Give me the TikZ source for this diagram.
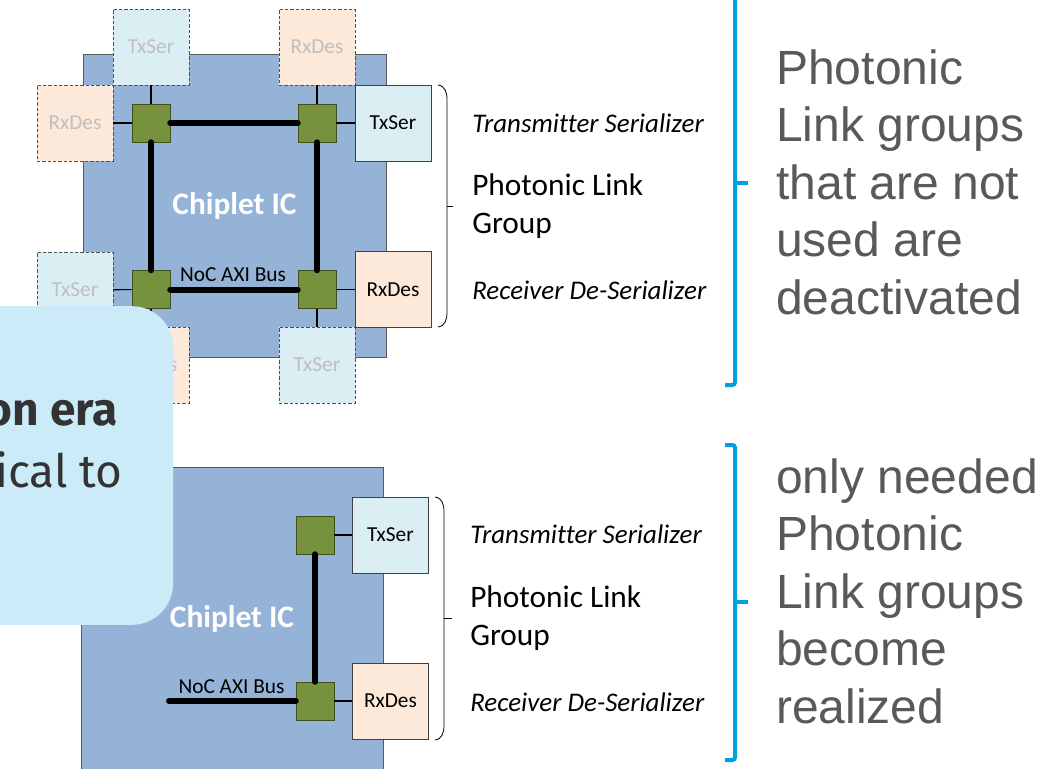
\documentclass[tikz,border=0pt]{standalone}
\usepackage{fontspec}
\setmainfont{Carlito}[Ligatures=NoCommon]
\newfontfamily\notefont{Liberation Sans}
\newfontfamily\calloutfont{Fira Sans}

\definecolor{chipblue}{HTML}{95B3D7}
\definecolor{chipedge}{HTML}{595959}
\definecolor{routergreen}{HTML}{76923C}
\definecolor{routeredge}{HTML}{3F4F1F}
\definecolor{txblue}{HTML}{DAEEF3}
\definecolor{rxorange}{HTML}{FDE9D9}
\definecolor{boxedge}{HTML}{404040}
\definecolor{ghostedge}{HTML}{505050}
\definecolor{ghosttext}{HTML}{BFBFBF}
\definecolor{calloutblue}{HTML}{CCEBF8}
\definecolor{callouttext}{HTML}{333333}
\definecolor{bracketblue}{HTML}{00A0E3}
\definecolor{notegray}{HTML}{595959}

\begin{document}
\begin{tikzpicture}[
    x=0.75pt, y=-0.75pt,
    chip/.style={rectangle, draw=chipedge, fill=chipblue, minimum width=227pt, minimum height=227pt, text=white, font=\fontsize{23.5}{28}\selectfont\bfseries},
    router/.style={rectangle, draw=routeredge, fill=routergreen, minimum size=28.5pt, inner sep=0pt},
    txser/.style={rectangle, draw=boxedge, fill=txblue, minimum size=57pt, inner sep=0pt, font=\fontsize{16}{19}\selectfont},
    rxdes/.style={txser, fill=rxorange},
    ghost/.style={dashed, dash pattern=on 2.5pt off 1.5pt, draw=ghostedge, text=ghosttext},
    bus/.style={line width=4.5pt, line cap=round},
    link/.style={line width=0.8pt},
    busname/.style={inner sep=0pt, font=\fontsize{16}{19}\selectfont},
    brace/.style={line width=0.6pt},
    bracket/.style={line width=3pt, draw=bracketblue, rounded corners=2pt},
    desc/.style={anchor=west, inner sep=0pt, font=\fontsize{20.2}{24}\selectfont\itshape},
    groupname/.style={anchor=west, inner sep=0pt, align=left, font=\fontsize{23.5}{28.5}\selectfont},
    note/.style={anchor=west, inner sep=0pt, align=left, text=notegray, font=\notefont\fontsize{36}{43.1}\selectfont},
    callout/.style={rectangle, fill=calloutblue, rounded corners=31pt, minimum width=175pt, minimum height=239pt},
    callouttxt/.style={anchor=east, inner sep=0pt, text=callouttext, font=\calloutfont\fontsize{34.5}{41}\selectfont}
]
\useasboundingbox (0,0) rectangle (1055,768);
\clip (0,0) rectangle (1055,768);

% ---------------- chiplet with all link groups ----------------
\node[chip] (chipA) at (234.5,205.5) {Chiplet IC};

% unused link groups (dashed)
\node[txser, ghost] (ghTxTop) at (151,47) {TxSer};
\node[rxdes, ghost] (ghRxTop) at (317,47) {RxDes};
\node[rxdes, ghost] (ghRxLeft) at (75,123) {RxDes};
\node[txser, ghost] (ghTxLeft) at (75,290) {TxSer};
\node[rxdes, ghost] (ghRxBot) at (151,365) {RxDes};
\node[txser, ghost] (ghTxBot) at (317,365) {TxSer};

% active link group
\node[txser] (txA) at (393,123) {TxSer};
\node[rxdes] (rxA) at (393,289.5) {RxDes};

% NoC routers
\node[router] (gTL) at (151,123) {};
\node[router] (gTR) at (317,123) {};
\node[router] (gBL) at (151,289.5) {};
\node[router] (gBR) at (317,289.5) {};

% router to SerDes links
\draw[link] (gTL) -- (ghTxTop);
\draw[link] (gTL) -- (ghRxLeft);
\draw[link] (gTR) -- (ghRxTop);
\draw[link] (gTR) -- (txA);
\draw[link] (gBL) -- (ghTxLeft);
\draw[link] (gBL) -- (ghRxBot);
\draw[link] (gBR) -- (rxA);
\draw[link] (gBR) -- (ghTxBot);

% NoC AXI bus ring
\draw[bus] (gTL) -- (gTR);
\draw[bus] (gTR) -- (gBR);
\draw[bus] (gBR) -- (gBL);
\draw[bus] (gBL) -- (gTL);
\node[busname] (busA) at (233,275) {NoC AXI Bus};

% ---------------- chiplet with needed link group only ----------------
\node[chip, minimum width=226.5pt] (chipB) at (232,618.5) {Chiplet IC};

\node[txser] (txB) at (390.5,535) {TxSer};
\node[rxdes] (rxB) at (390.5,701) {RxDes};

\node[router] (gB1) at (315,535) {};
\node[router] (gB2) at (315,701) {};

\draw[link] (gB1) -- (txB);
\draw[link] (gB2) -- (rxB);

\coordinate (busend) at (169,701);
\draw[bus] (gB1) -- (gB2);
\draw[bus] (busend) -- (gB2);
\node[busname] (busB) at (231.5,687) {NoC AXI Bus};

% overlapping call-out
\node[callout] (callout) at (56.5,465.5) {};
\node[callouttxt, font=\calloutfont\bfseries\fontsize{34.5}{41}\selectfont] (calloutA) at (118,413) {on era};
\node[callouttxt] (calloutB) at (123,470) {ical to};

% ---------------- link group braces and names ----------------
\draw[brace] (438,85) .. controls (445,86) and (447,92) .. (447,100) -- (447,312) .. controls (447,320) and (445,326) .. (438,327);
\draw[brace] (447,206) -- (453,206);
\node[desc] (txnameA) at (472,123) {Transmitter Serializer};
\node[groupname] (grpA) at (472,206) {Photonic Link\\Group};
\node[desc] (rxnameA) at (472,290) {Receiver De-Serializer};

\draw[brace] (435,497) .. controls (442,498) and (444,504) .. (444,512) -- (444,725) .. controls (444,733) and (442,739) .. (435,740);
\draw[brace] (444,618) -- (452,618);
\node[desc] (txnameB) at (470,534) {Transmitter Serializer};
\node[groupname] (grpB) at (470,618) {Photonic Link\\Group};
\node[desc] (rxnameB) at (470,702) {Receiver De-Serializer};

% ---------------- blue brackets and notes ----------------
\draw[bracket] (725,385) -- (735,385) -- (735,-10);
\draw[bracket] (735,183) -- (748,183);
\draw[bracket] (725,445) -- (735,445) -- (735,760) -- (725,760);
\draw[bracket] (735,602) -- (748,602);

\node[note] (noteA) at (776,182) {Photonic\\Link groups\\that are not\\used are\\deactivated};
\node[note] (noteB) at (776,591) {only needed\\Photonic\\Link groups\\become\\realized};

\end{tikzpicture}
\end{document}
